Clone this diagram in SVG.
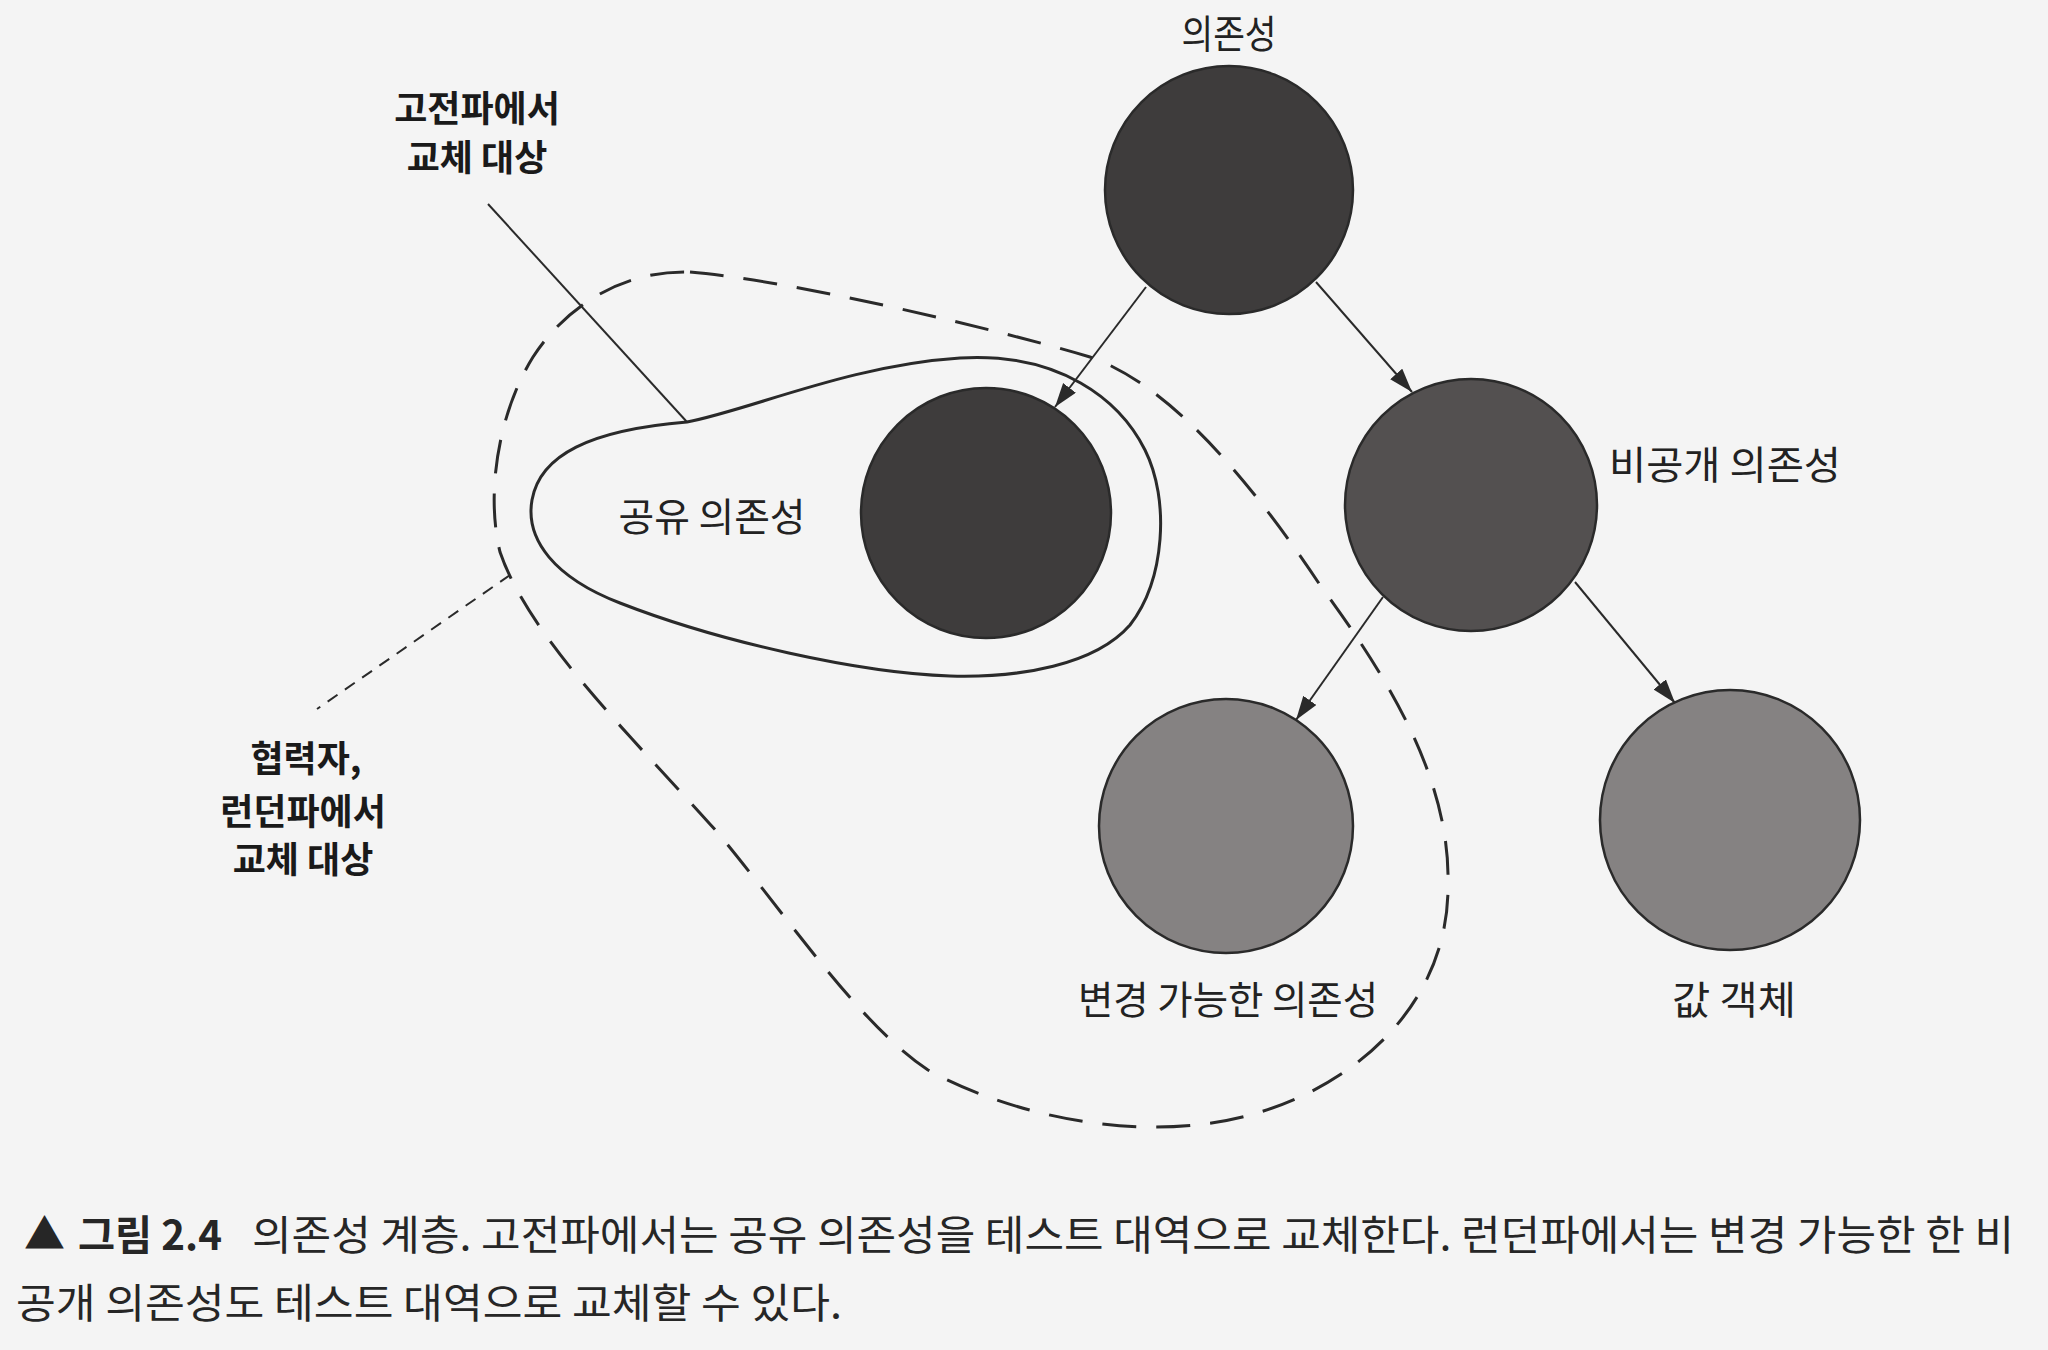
<svg xmlns="http://www.w3.org/2000/svg" width="2048" height="1350" viewBox="0 0 2048 1350">
<defs>
<style>
.lbl{font-family:"Noto Sans CJK KR","Noto Sans",sans-serif;font-size:39px;fill:#222;}
.bold{font-weight:bold;font-size:36px;fill:#1a1a1a;}
.cap{font-family:"Noto Sans CJK KR","Noto Sans",sans-serif;font-size:41px;fill:#262626;}
.node{stroke:#2a2a2a;stroke-width:2.5;}
.dark{fill:#3e3c3c;}
.mid{fill:#535050;}
.light{fill:#858282;}
.conn{stroke:#2a2a2a;stroke-width:2;fill:none;}
</style>
<marker id="arr" markerWidth="26" markerHeight="18" refX="24" refY="8" orient="auto" markerUnits="userSpaceOnUse">
<path d="M0,0 L24,8 L0,16 Z" fill="#2a2a2a"/>
</marker>
</defs>
<rect x="0" y="0" width="2048" height="1350" fill="#f4f4f4"/>

<g id="regions">
<path id="london-region" d="M690,272 C790,280 1000,330 1090,357 C1170,385 1250,480 1320,585 C1390,680 1450,780 1448,883 C1450,1000 1360,1085 1250,1115 C1140,1145 1010,1115 928,1070 C860,1025 790,920 718,833 C640,745 530,640 500,552 C485,490 500,410 533,357 C570,300 630,270 690,272 Z" fill="none" stroke="#2a2a2a" stroke-width="3" stroke-dasharray="34 20"/>
<path id="classic-region" d="M687,422 C750,410 850,365 960,358 C1060,352 1120,400 1145,450 C1170,500 1165,580 1130,625 C1095,665 1020,678 950,676 C860,673 720,642 620,603 C555,578 525,540 532,500 C540,455 590,430 687,422 Z" fill="none" stroke="#2a2a2a" stroke-width="3"/>
</g>

<g id="connectors">
<line class="conn" x1="1146" y1="287" x2="1055" y2="407" marker-end="url(#arr)"/>
<line class="conn" x1="1316" y1="282" x2="1412" y2="392" marker-end="url(#arr)"/>
<line class="conn" x1="1383" y1="597" x2="1296" y2="720" marker-end="url(#arr)"/>
<line class="conn" x1="1575" y1="582" x2="1675" y2="703" marker-end="url(#arr)"/>
<line id="classic-pointer" class="conn" x1="488" y1="204" x2="687" y2="422"/>
<line id="london-pointer" class="conn" x1="510" y1="575" x2="317" y2="709" stroke-width="2.5" stroke-dasharray="12 9"/>
</g>

<g id="node-dependency">
<circle class="node dark" cx="1229" cy="190" r="124"/>
<text class="lbl" x="1229" y="48" text-anchor="middle" textLength="95" lengthAdjust="spacingAndGlyphs">의존성</text>
</g>
<g id="node-shared">
<circle class="node dark" cx="986" cy="513" r="125"/>
<text class="lbl" x="712" y="531" text-anchor="middle" textLength="187" lengthAdjust="spacingAndGlyphs">공유 의존성</text>
</g>
<g id="node-private">
<circle class="node mid" cx="1471" cy="505" r="126"/>
<text class="lbl" x="1609" y="479" textLength="232" lengthAdjust="spacingAndGlyphs">비공개 의존성</text>
</g>
<g id="node-mutable">
<circle class="node light" cx="1226" cy="826" r="127"/>
<text class="lbl" x="1228" y="1014" text-anchor="middle" textLength="300" lengthAdjust="spacingAndGlyphs">변경 가능한 의존성</text>
</g>
<g id="node-value">
<circle class="node light" cx="1730" cy="820" r="130"/>
<text class="lbl" x="1734" y="1014" text-anchor="middle" textLength="124" lengthAdjust="spacingAndGlyphs">값 객체</text>
</g>

<g id="label-classic">
<text class="lbl bold" x="477" y="122" text-anchor="middle">고전파에서</text>
<text class="lbl bold" x="477" y="171" text-anchor="middle">교체 대상</text>
</g>
<g id="label-london">
<text class="lbl bold" x="306" y="772" text-anchor="middle">협력자,</text>
<text class="lbl bold" x="303" y="825" text-anchor="middle">런던파에서</text>
<text class="lbl bold" x="303" y="873" text-anchor="middle">교체 대상</text>
</g>

<g id="caption">
<text class="cap" x="24" y="1249" font-size="32" fill="#333">▲</text>
<text class="cap" x="78" y="1250" font-weight="bold" fill="#1a1a1a" textLength="144" lengthAdjust="spacingAndGlyphs">그림 2.4</text>
<text class="cap" x="252" y="1250" textLength="1762" lengthAdjust="spacingAndGlyphs">의존성 계층. 고전파에서는 공유 의존성을 테스트 대역으로 교체한다. 런던파에서는 변경 가능한 한 비</text>
<text class="cap" x="16" y="1318" textLength="826" lengthAdjust="spacingAndGlyphs">공개 의존성도 테스트 대역으로 교체할 수 있다.</text>
</g>
</svg>
